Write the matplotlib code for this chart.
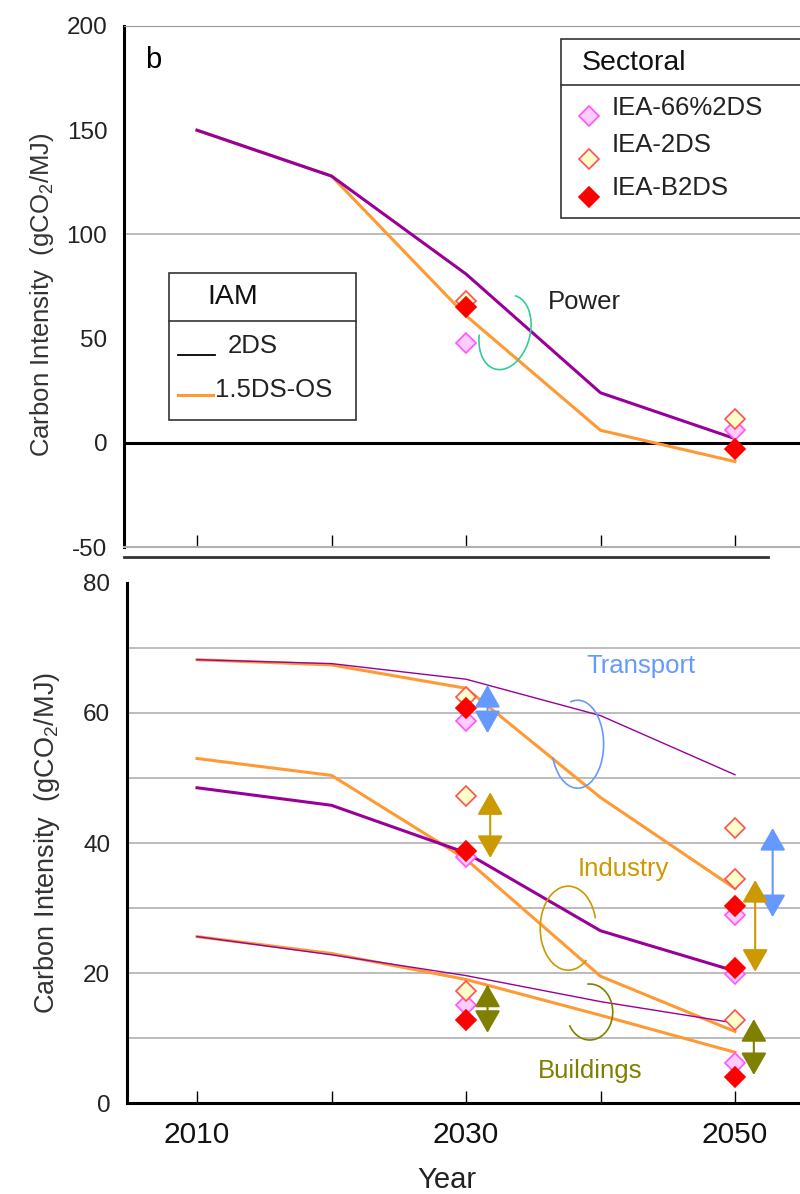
import matplotlib
matplotlib.use("Agg")
import matplotlib.pyplot as plt
from matplotlib.patches import Arc, Rectangle, FancyArrowPatch
from matplotlib.lines import Line2D
from matplotlib.transforms import ScaledTranslation

plt.rcParams["font.family"] = ["Liberation Sans", "DejaVu Sans"]
plt.rcParams["mathtext.fontset"] = "custom"
plt.rcParams["mathtext.rm"] = "Liberation Sans"
plt.rcParams["mathtext.it"] = "Liberation Sans:italic"
plt.rcParams["mathtext.default"] = "regular"
plt.rcParams["axes.unicode_minus"] = False

# -----------------------------
# Data
# -----------------------------
years = [2010, 2020, 2030, 2040, 2050]
iea_years = [2030, 2050]

# IAM pathways (gCO2/MJ)
power_2ds = [150, 128, 81, 24, 2]
power_15 = [150, 128, 61, 6, -9]
transport_2ds = [68.2, 67.6, 65.2, 59.6, 50.5]
transport_15 = [68.2, 67.4, 63.8, 47, 33]
industry_2ds = [48.5, 45.8, 38.5, 26.5, 20.3]
industry_15 = [53, 50.4, 37.5, 19.5, 11]
buildings_2ds = [25.6, 22.8, 19.6, 15.6, 12.3]
buildings_15 = [25.6, 23, 19, 13.5, 7.8]

# IEA sectoral points at 2030 / 2050
power_66 = [48, 6]
power_iea2 = [68, 11.5]
power_b2 = [65, -3]
transport_66 = [58.8, 29]
transport_iea2 = [62.5, 42.3]
transport_b2 = [60.8, 30.3]
industry_66 = [37.8, 19.8]
industry_iea2 = [47.2, 34.4]
industry_b2 = [38.8, 20.7]
buildings_66 = [15.1, 6.2]
buildings_iea2 = [17.3, 12.8]
buildings_b2 = [12.8, 4.0]

# range arrows (year, low, high)
arrow_year = [2031.6, 2031.8, 2031.6, 2052.8, 2051.5, 2051.4]
arrow_low = [56.9, 37.7, 10.8, 28.6, 20.2, 4.3]
arrow_high = [64.3, 47.8, 18.2, 42.3, 34.3, 12.9]

PURPLE = "#990099"
ORANGE = "#FF9933"
BLUE = "#6699FF"
GOLD = "#CC9900"
OLIVE = "#808000"
MINT = "#33CC99"
arrow_color = [BLUE, GOLD, OLIVE, BLUE, GOLD, OLIVE]

W, H = 800, 1194
PX_PER_YEAR = 13.45


def px(x, y):
    return x / W, 1 - y / H


fig = plt.figure(figsize=(8, 11.94), dpi=100)

# -----------------------------
# Top panel: Power
# -----------------------------
ax1 = fig.add_axes([124 / W, 1 - 547 / H, (W - 124) / W, (547 - 26) / H])
ax1.set_xlim(2010 - 73 / PX_PER_YEAR, 2010 + 603 / PX_PER_YEAR)
ax1.set_ylim(-50, 200)
ax1.axhline(100, color="#b0b0b0", lw=1.2, zorder=0)
ax1.axhline(0, color="black", lw=2.2, zorder=1)
ax1.plot(years, power_15, color=ORANGE, lw=2.2, zorder=2)
ax1.plot(years, power_2ds, color=PURPLE, lw=2.2, zorder=3)

# -----------------------------
# Bottom panel: Transport / Industry / Buildings
# -----------------------------
ax2 = fig.add_axes([127 / W, 1 - 1103 / H, (W - 127) / W, (1103 - 583) / H])
ax2.set_xlim(2010 - 70 / PX_PER_YEAR, 2010 + 603 / PX_PER_YEAR)
ax2.set_ylim(0, 80)
for g in range(10, 80, 10):
    ax2.axhline(g, color="#b0b0b0", lw=1.2, zorder=0)

ax2.plot(years, transport_15, color=ORANGE, lw=2.2, zorder=2)
ax2.plot(years, transport_2ds, color=PURPLE, lw=1.0, zorder=3)
ax2.plot(years, industry_15, color=ORANGE, lw=2.2, zorder=2)
ax2.plot(years, industry_2ds, color=PURPLE, lw=2.2, zorder=3)
ax2.plot(years, buildings_15, color=ORANGE, lw=2.2, zorder=2)
ax2.plot(years, buildings_2ds, color=PURPLE, lw=1.0, zorder=3)

mk66 = dict(marker="D", ms=10.5, mfc="#FFCCFF", mec="#FF55FF", mew=1.2, ls="none", zorder=5)
mk2 = dict(marker="D", ms=10.5, mfc="#FFFFCC", mec="#FF5050", mew=1.2, ls="none", zorder=5)
mkb2 = dict(marker="D", ms=10.5, mfc="#FF0000", mec="#FF0000", mew=1.2, ls="none", zorder=6)

ax1.plot(iea_years, power_66, **mk66)
ax1.plot(iea_years, power_iea2, **mk2)
ax1.plot(iea_years, power_b2, **mkb2)
for s66, s2, sb2 in [(transport_66, transport_iea2, transport_b2),
                     (industry_66, industry_iea2, industry_b2),
                     (buildings_66, buildings_iea2, buildings_b2)]:
    ax2.plot(iea_years, s66, **mk66)
    ax2.plot(iea_years, s2, **mk2)
    ax2.plot(iea_years, sb2, **mkb2)

for xa, lo, hi, c in zip(arrow_year, arrow_low, arrow_high, arrow_color):
    ax2.add_patch(FancyArrowPatch((xa, lo), (xa, hi),
                                  arrowstyle="<|-|>,head_length=0.7,head_width=0.4",
                                  mutation_scale=20, color=c, lw=1.5,
                                  shrinkA=0, shrinkB=0, zorder=7))


def arc(ax, x, y, w, h, t1, t2, color, angle=0):
    # w, h in pixels, centred on a data point
    tr = fig.dpi_scale_trans + ScaledTranslation(x, y, ax.transData)
    ax.add_patch(Arc((0, 0), w / 100, h / 100, angle=angle, theta1=t1, theta2=t2,
                     color=color, lw=1.2, transform=tr, zorder=4))


arc(ax1, 2032.9, 53, 50, 76, 200, 450, MINT, angle=-15)
arc(ax2, 2038.3, 55.2, 52, 88, 208, 460, BLUE)
arc(ax2, 2037.6, 26.9, 56, 84, 20, 300, GOLD)
arc(ax2, 2039.2, 14.0, 46, 56, 213, 455, OLIVE)

ax1.text(2038.8, 67.5, "Power", fontsize=18.5, color="#222222", ha="center", va="center")
ax2.text(2043.0, 67.2, "Transport", fontsize=18.5, color=BLUE, ha="center", va="center")
ax2.text(2041.7, 36.0, "Industry", fontsize=18.5, color=GOLD, ha="center", va="center")
ax2.text(2039.2, 4.9, "Buildings", fontsize=18.5, color=OLIVE, ha="center", va="center")

# -----------------------------
# Axes styling
# -----------------------------
for ax in (ax1, ax2):
    ax.spines["right"].set_visible(False)
    ax.spines["left"].set_linewidth(2.2)
    ax.set_xticks(years)
    ax.tick_params(axis="y", length=0, labelsize=17.5, pad=12, labelcolor="#222222")
    ax.tick_params(axis="x", direction="in", length=9, width=1)

ax1.set_yticks([-50, 0, 50, 100, 150, 200])
ax1.spines["top"].set_color("#999999")
ax1.spines["bottom"].set_color("#b0b0b0")
ax1.spines["bottom"].set_linewidth(1.5)
ax1.tick_params(axis="x", labelbottom=False)

ax2.set_yticks([0, 20, 40, 60, 80])
ax2.spines["top"].set_visible(False)
ax2.spines["bottom"].set_linewidth(2.2)
ax2.set_xticklabels(["2010", "", "2030", "", "2050"])
ax2.tick_params(axis="x", labelsize=21.5, pad=13, labelcolor="#111111")

ylab = "Carbon Intensity  (gCO$_2$/MJ)"
fig.text(*px(42, 295), ylab, rotation=90, fontsize=18.5, color="#333333", ha="center", va="center")
fig.text(*px(47, 843), ylab, rotation=90, fontsize=19.5, color="#333333", ha="center", va="center")
fig.text(*px(447, 1180), "Year", fontsize=21, color="#222222", ha="center", va="center")
fig.text(*px(153, 60), "b", fontsize=21, color="black", ha="center", va="center")

# separator between panels
fig.add_artist(Line2D([124 / W, 768 / W], [1 - 557 / H] * 2, color="#333333", lw=2,
                      transform=fig.transFigure))

# -----------------------------
# Legends (boxed tables)
# -----------------------------
def box(x0, y0, x1, y1, ydiv):
    fig.add_artist(Rectangle(px(x0, y1), (x1 - x0) / W, (y1 - y0) / H, fc="white",
                             ec="#333333", lw=1.2, transform=fig.transFigure, zorder=8))
    fig.add_artist(Line2D([x0 / W, x1 / W], [1 - ydiv / H] * 2, color="#333333", lw=1.2,
                          transform=fig.transFigure, zorder=9))


box(561, 39, 812, 218, 85)
fig.text(*px(582, 63), "Sectoral", fontsize=20.5, color="#111111", va="center", zorder=10)
for ty, my, lab, st in [(108, 116, "IEA-66%2DS", mk66), (145, 159, "IEA-2DS", mk2),
                        (188, 197, "IEA-B2DS", mkb2)]:
    fig.text(*px(612, ty), lab, fontsize=18.5, color="#222222", va="center", zorder=10)
    fx, fy = px(589, my)
    st = dict(st, zorder=10)
    fig.add_artist(Line2D([fx], [fy], transform=fig.transFigure, **st))

box(169, 273, 356, 420, 321)
fig.text(*px(233, 297), "IAM", fontsize=20.5, color="#111111", ha="center", va="center", zorder=10)
fig.add_artist(Line2D([178 / W, 215 / W], [1 - 355 / H] * 2, color="black", lw=1.3,
                      transform=fig.transFigure, zorder=10))
fig.text(*px(228, 346), "2DS", fontsize=18.5, color="#222222", va="center", zorder=10)
fig.add_artist(Line2D([178 / W, 213 / W], [1 - 395 / H] * 2, color=ORANGE, lw=2.2,
                      transform=fig.transFigure, zorder=10))
fig.text(*px(215, 390), "1.5DS-OS", fontsize=18.5, color="#222222", va="center", zorder=10)

fig.savefig("out.png", dpi=100)
